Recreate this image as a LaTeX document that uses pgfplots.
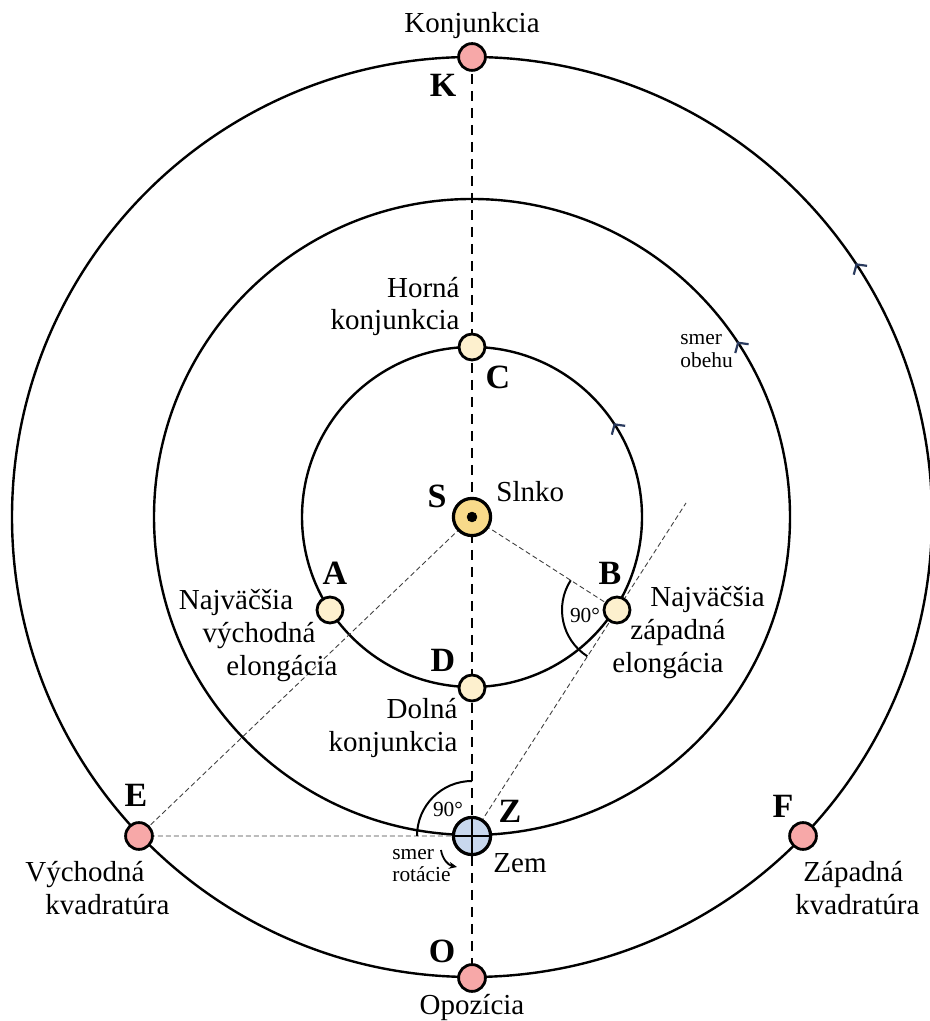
\documentclass[border=0pt]{standalone}
\usepackage{fontspec}
\setmainfont{Liberation Serif}
\usepackage{pgfplots}
\pgfplotsset{compat=1.18}
\usetikzlibrary{arrows.meta,decorations.markings}

\definecolor{outerc}{HTML}{F7A8A8}
\definecolor{innerc}{HTML}{FDF0CE}
\definecolor{sunc}{HTML}{F8DA8A}
\definecolor{earthc}{HTML}{C8D8EE}
\definecolor{navyc}{HTML}{2A3A5E}

\tikzset{
  lbl/.style={font=\fontsize{14.5}{16.5}\selectfont, inner sep=0pt},
  big/.style={font=\fontsize{17}{20}\selectfont\bfseries, inner sep=0pt},
  small/.style={font=\fontsize{10.7}{13}\selectfont, inner sep=0pt},
  orb/.style={line width=1.2pt,
    decoration={markings, mark=at position 0.093 with {\arrow[navyc,line width=1.1pt]{Straight Barb[length=3.5pt,width=8pt]}}},
    postaction={decorate}},
  thinline/.style={line width=0.45pt, black!75, dash pattern=on 2.5pt off 1.5pt},
}

\begin{document}
\begin{tikzpicture}
\begin{axis}[x=0.5pt, y=0.5pt, xmin=-472, xmax=458, ymin=-504, ymax=517,
  hide axis, clip=false]
\coordinate (bl) at (axis cs:-472,-504);
\coordinate (tr) at (axis cs:458,517);

% orbits
\draw[orb] (axis cs:0,0) circle[radius=230pt];
\draw[orb] (axis cs:0,0) circle[radius=159pt];
\draw[orb] (axis cs:0,0) circle[radius=85pt];

% construction lines
\addplot[line width=1.4pt, dash pattern=on 5pt off 3.5pt] coordinates {(0,460) (0,-461)};
\addplot[thinline] coordinates {(0,0) (-333,-319) (0,-319)};
\addplot[thinline] coordinates {(0,0) (145,-93)};
\addplot[thinline] coordinates {(0,-319) (214,14)};

% right angles
\draw[line width=1pt] (axis cs:0,-319) ++(90:27.5pt) arc[start angle=90,end angle=180,radius=27.5pt];
\draw[line width=1pt] (axis cs:145,-93) ++(147.3:27.5pt) arc[start angle=147.3,end angle=237.3,radius=27.5pt];
\draw[line width=0.9pt, -{Stealth[length=4pt,width=3.5pt]}] (axis cs:-31,-333) to[bend right=35] (axis cs:-15,-350);

% bodies
\addplot[only marks, mark=*, mark size=6.7pt, mark options={fill=outerc, draw=black, line width=1.4pt}]
  coordinates {(0,460) (0,-461) (-333,-319) (331,-319)};
\addplot[only marks, mark=*, mark size=6.5pt, mark options={fill=innerc, draw=black, line width=1.4pt}]
  coordinates {(0,170) (0,-171) (-142,-93) (145,-93)};
\addplot[only marks, mark=*, mark size=9.3pt, mark options={fill=sunc, draw=black, line width=1.6pt}]
  coordinates {(0,0)};
\addplot[only marks, mark=*, mark size=2.4pt, mark options={fill=black, draw=black}]
  coordinates {(0,0)};
\addplot[only marks, mark=*, mark size=9.3pt, mark options={fill=earthc, draw=black, line width=1.6pt}]
  coordinates {(0,-319)};
\addplot[only marks, mark=+, mark size=9.3pt, mark options={draw=black, line width=1.3pt}]
  coordinates {(0,-319)};

% labels
\node[lbl, anchor=base] at (axis cs:0,484) {Konjunkcia};
\node[big, anchor=base] at (axis cs:-29,420) {K};
\node[lbl, anchor=base east] at (axis cs:-12,219) {Horná};
\node[lbl, anchor=base east] at (axis cs:-12,187) {konjunkcia};
\node[big, anchor=base] at (axis cs:26,128) {C};
\node[big, anchor=base] at (axis cs:-35,9) {S};
\node[lbl, anchor=base west] at (axis cs:24,15) {Slnko};
\node[big, anchor=base] at (axis cs:-137,-68) {A};
\node[lbl, anchor=base] at (axis cs:-236,-93) {Najväčšia};
\node[lbl, anchor=base] at (axis cs:-213,-126) {východná};
\node[lbl, anchor=base] at (axis cs:-190,-159) {elongácia};
\node[big, anchor=base] at (axis cs:138,-68) {B};
\node[lbl, anchor=base west] at (axis cs:178,-90) {Najväčšia};
\node[lbl, anchor=base west] at (axis cs:158,-123) {západná};
\node[lbl, anchor=base west] at (axis cs:140,-156) {elongácia};
\node[big, anchor=base] at (axis cs:-29,-155) {D};
\node[lbl, anchor=base east] at (axis cs:-14,-202) {Dolná};
\node[lbl, anchor=base east] at (axis cs:-14,-235) {konjunkcia};
\node[big, anchor=base] at (axis cs:-336,-290) {E};
\node[lbl, anchor=base west] at (axis cs:-447,-365) {Východná};
\node[lbl, anchor=base west] at (axis cs:-427,-398) {kvadratúra};
\node[big, anchor=base] at (axis cs:311,-301) {F};
\node[lbl, anchor=base west] at (axis cs:331,-365) {Západná};
\node[lbl, anchor=base west] at (axis cs:323,-398) {kvadratúra};
\node[big, anchor=base] at (axis cs:38,-306) {Z};
\node[lbl, anchor=base west] at (axis cs:21,-356) {Zem};
\node[small, anchor=base] at (axis cs:-24,-300) {90°};
\node[small, anchor=base] at (axis cs:113,-106) {90°};
\node[small, anchor=base west] at (axis cs:-80,-343) {smer};
\node[small, anchor=base west] at (axis cs:-80,-365) {rotácie};
\node[small, anchor=base west] at (axis cs:208,172) {smer};
\node[small, anchor=base west] at (axis cs:208,149) {obehu};
\node[big, anchor=base] at (axis cs:-30,-446) {O};
\node[lbl, anchor=base] at (axis cs:0,-498) {Opozícia};
\end{axis}
\pgfresetboundingbox
\useasboundingbox (bl) rectangle (tr);
\end{tikzpicture}
\end{document}
